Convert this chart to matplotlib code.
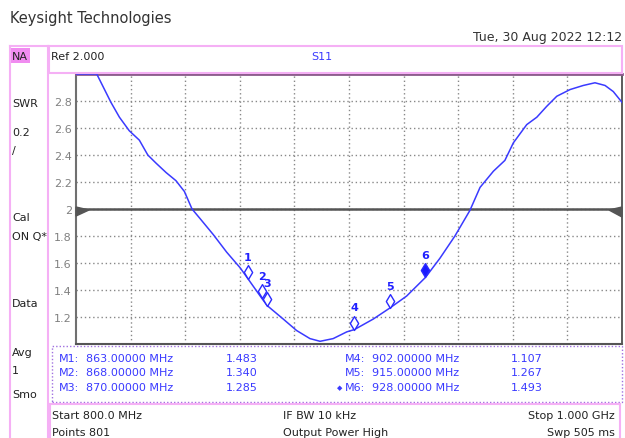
import numpy as np
import matplotlib.pyplot as plt
from matplotlib.path import Path
from matplotlib.patches import Rectangle, Polygon
from matplotlib.lines import Line2D

# S11 trace (SWR)
freq_mhz = [800.0, 807.6, 812.8, 815.9, 819.5, 823.2, 826.3, 829.3, 833.0, 836.6,
            839.7, 842.5, 845.4, 850.3, 855.2, 860.1, 863.0, 868.0, 870.0, 875.9,
            880.8, 885.7, 889.4, 894.2, 899.2, 902.0, 908.9, 915.0, 921.1, 928.0,
            933.3, 938.8, 944.3, 948.0, 952.9, 957.1, 960.2, 965.1, 968.8, 972.4,
            976.1, 981.0, 985.8, 990.1, 993.8, 996.8, 1000.0]
swr = [3.0, 3.0, 2.79, 2.68, 2.58, 2.51, 2.40, 2.34, 2.27, 2.21,
       2.13, 2.00, 1.93, 1.81, 1.68, 1.565, 1.483, 1.340, 1.285, 1.185,
       1.10, 1.04, 1.02, 1.04, 1.09, 1.107, 1.185, 1.267, 1.355, 1.493,
       1.635, 1.80, 1.99, 2.16, 2.28, 2.36, 2.49, 2.625, 2.68, 2.76,
       2.835, 2.885, 2.915, 2.935, 2.915, 2.87, 2.79]

# markers
marker_ids = ['1', '2', '3', '4', '5', '6']
marker_freq = [863.0, 868.0, 870.0, 902.0, 915.0, 928.0]
marker_val = [1.483, 1.340, 1.285, 1.107, 1.267, 1.493]

y_ticks = [1.2, 1.4, 1.6, 1.8, 2.0, 2.2, 2.4, 2.6, 2.8]
y_labels = ['1.2', '1.4', '1.6', '1.8', '2', '2.2', '2.4', '2.6', '2.8']

W, H = 625, 439
PINK = '#f5b0f5'
BLUE = '#3a3aff'
TXT = '#222222'

plt.rcParams['font.family'] = ['DejaVu Sans']

fig = plt.figure(figsize=(W / 100, H / 100), dpi=100)
fig.patch.set_facecolor('white')


def fx(x):
    return x / W


def fy(y):
    return 1 - y / H


def ftext(x, y, s, **kw):
    kw.setdefault('va', 'center')
    kw.setdefault('fontsize', 8)
    kw.setdefault('color', TXT)
    fig.text(fx(x), fy(y), s, **kw)


def fline(xs, ys, **kw):
    fig.add_artist(Line2D([fx(v) for v in xs], [fy(v) for v in ys],
                          transform=fig.transFigure, **kw))


# plot area
ax = fig.add_axes([fx(76), fy(345), (622 - 76) / W, (345 - 75) / H])
ax.plot(freq_mhz, swr, color=BLUE, lw=1.1, zorder=4, clip_on=True)
ax.set_xlim(800, 1000)
ax.set_ylim(1.0, 3.0)
ax.set_xticks(np.arange(820, 1000, 20))
ax.set_xticklabels([])
ax.set_yticks(y_ticks)
ax.set_yticklabels(y_labels, color='#808080', fontsize=8)
ax.tick_params(length=0, pad=3)
ax.grid(True, color='#888888', linestyle=(0, (1, 2)), lw=1)
ax.spines['top'].set_color('#8a5a8a')
ax.spines['top'].set_linewidth(2)
ax.spines['left'].set_color('#707070')
ax.spines['left'].set_linewidth(1.5)
ax.spines['bottom'].set_color('#555555')
ax.spines['bottom'].set_linewidth(1.5)
ax.spines['right'].set_color('#404040')
ax.spines['right'].set_linewidth(1.2)

# reference line
ax.axhline(2.0, color='#555555', lw=1.8, zorder=3)
fig.add_artist(Polygon([(fx(76), fy(208)), (fx(76), fy(217)), (fx(89), fy(211))],
                       closed=True, transform=fig.transFigure, color='#555555'))
fig.add_artist(Polygon([(fx(622), fy(208)), (fx(622), fy(218)), (fx(609), fy(211))],
                       closed=True, transform=fig.transFigure, color='#555555'))

# marker diamonds: bottom tip sits on the trace
diamond = Path([(0, 0), (0.3, 0.5), (0, 1), (-0.3, 0.5), (0, 0)],
               [Path.MOVETO, Path.LINETO, Path.LINETO, Path.LINETO, Path.CLOSEPOLY])
for i, (mid, f, v) in enumerate(zip(marker_ids, marker_freq, marker_val)):
    active = mid == '6'
    ax.plot([f], [v], marker=diamond, markersize=20, linestyle='none',
            markeredgecolor='#2a2aff', markeredgewidth=1,
            markerfacecolor='#1a1aff' if active else 'white', zorder=5)
    ax.annotate(mid, (f, v), xytext=(0, 16), textcoords='offset points',
                ha='center', va='center', fontsize=8, fontweight='bold',
                color='#2020ff', zorder=6)

# header
ftext(10, 19, 'Keysight Technologies', fontsize=10.5, color='#333333')
ftext(622, 37, 'Tue, 30 Aug 2022 12:12', fontsize=9, ha='right', color='#333333')

# left soft-key panel
fline([10, 10], [47, 439], color=PINK, lw=1.5)
fline([48, 48], [47, 439], color=PINK, lw=1.5)
fline([10, 48], [47, 47], color=PINK, lw=1.5)
fig.add_artist(Rectangle((fx(11), fy(64)), 19 / W, 15 / H, transform=fig.transFigure,
                         facecolor='#f08cf0', edgecolor='none'))
ftext(12, 57, 'NA')
for label, yy in [('SWR', 104), ('0.2', 133), ('/', 151), ('Cal', 218), ('ON Q*', 237),
                  ('Data', 304), ('Avg', 353), ('1', 371), ('Smo', 395)]:
    ftext(12, yy, label)

# reference box
fig.add_artist(Rectangle((fx(49), fy(74)), (622 - 49) / W, 27 / H, transform=fig.transFigure,
                         facecolor='none', edgecolor=PINK, lw=1.5))
ftext(51, 57, 'Ref 2.000')
ftext(322, 57, 'S11', color=BLUE, ha='center')

# marker readout table
fig.add_artist(Rectangle((fx(52), fy(403)), (622 - 52) / W, 56 / H, transform=fig.transFigure,
                         facecolor='none', edgecolor='#a070e0', lw=1, linestyle=(0, (1, 1.5))))
rows_y = [359, 373, 388]
for k in range(3):
    ftext(59, rows_y[k], 'M%s:' % marker_ids[k], color=BLUE)
    ftext(86, rows_y[k], '%.5f MHz' % marker_freq[k], color=BLUE)
    ftext(226, rows_y[k], '%.3f' % marker_val[k], color=BLUE)
    ftext(345, rows_y[k], 'M%s:' % marker_ids[k + 3], color=BLUE)
    ftext(372, rows_y[k], '%.5f MHz' % marker_freq[k + 3], color=BLUE)
    ftext(511, rows_y[k], '%.3f' % marker_val[k + 3], color=BLUE)
ftext(340, 388, '\u25c6', color=BLUE, fontsize=5, ha='center')

# bottom status box
fline([50, 620], [405, 405], color=PINK, lw=1.5)
fline([50, 50], [405, 439], color=PINK, lw=1.5)
fline([620, 620], [405, 439], color=PINK, lw=1.5)
ftext(52, 416, 'Start 800.0 MHz')
ftext(52, 433, 'Points 801')
ftext(283, 416, 'IF BW 10 kHz')
ftext(283, 433, 'Output Power High')
ftext(615, 416, 'Stop 1.000 GHz', ha='right')
ftext(615, 433, 'Swp 505 ms', ha='right')

fig.savefig('out.png', dpi=100, facecolor='white')
